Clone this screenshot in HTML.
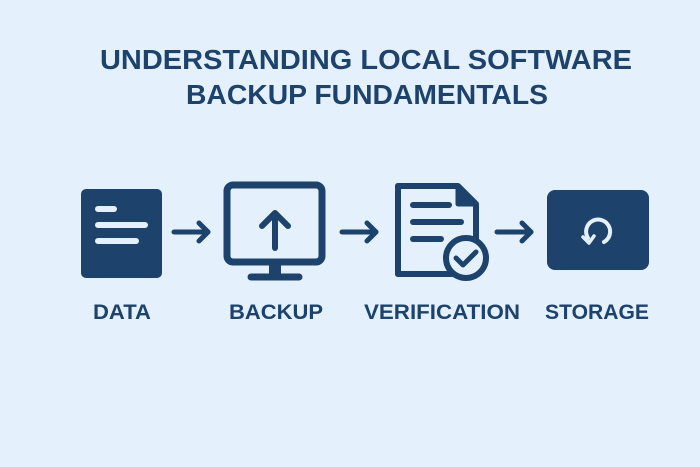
<!DOCTYPE html>
<html><head><meta charset="utf-8"><style>
html,body{margin:0;padding:0;background:#e4f1fc;}
svg{display:block}
</style></head><body>
<svg width="700" height="467" viewBox="0 0 700 467" xmlns="http://www.w3.org/2000/svg">
<rect width="700" height="467" fill="#e4f1fc"/>
<g font-family="Liberation Sans, sans-serif" font-weight="bold" fill="#1d426c">
<text x="100" y="69" font-size="28" textLength="532" lengthAdjust="spacingAndGlyphs">UNDERSTANDING LOCAL SOFTWARE</text>
<text x="186" y="104" font-size="28" textLength="362" lengthAdjust="spacingAndGlyphs">BACKUP FUNDAMENTALS</text>
<text x="93" y="319" font-size="21" textLength="58" lengthAdjust="spacingAndGlyphs">DATA</text>
<text x="229" y="319" font-size="21" textLength="94" lengthAdjust="spacingAndGlyphs">BACKUP</text>
<text x="364" y="319" font-size="21" textLength="156" lengthAdjust="spacingAndGlyphs">VERIFICATION</text>
<text x="545" y="319" font-size="21" textLength="104" lengthAdjust="spacingAndGlyphs">STORAGE</text>
</g>
<g stroke="#1d426c" fill="none" stroke-linecap="round" stroke-linejoin="round">
<rect x="81" y="189" width="81" height="89" rx="5" fill="#1d426c" stroke="none"/>
<g stroke="#e4f1fc" stroke-width="6">
<line x1="98" y1="209" x2="114" y2="209"/>
<line x1="98" y1="225" x2="145" y2="225"/>
<line x1="98" y1="241" x2="136" y2="241"/>
</g>
<g stroke-width="5"><line x1="174" y1="232" x2="208" y2="232"/><polyline points="199,223 208,232 199,241"/></g>
<rect x="227" y="185" width="95" height="77" rx="6" stroke-width="7"/>
<line x1="275" y1="262" x2="275" y2="276" stroke-width="12" stroke-linecap="butt"/>
<line x1="251" y1="277" x2="299" y2="277" stroke-width="7"/>
<line x1="275" y1="248" x2="275" y2="214" stroke-width="6"/>
<polyline points="262,226 275,213 288,226" stroke-width="6"/>
<g stroke-width="5"><line x1="342" y1="232" x2="376" y2="232"/><polyline points="367,223 376,232 367,241"/></g>
<path d="M398,186 H458 L476,204 V255 M455,274 H398 Z" stroke-width="6"/>
<path d="M398,186 V274" stroke-width="6"/>
<path d="M458,186 V204 H476" stroke-width="5" fill="#1d426c"/>
<g stroke-width="6"><line x1="413" y1="205" x2="449" y2="205"/><line x1="413" y1="222" x2="461" y2="222"/><line x1="413" y1="239" x2="441" y2="239"/></g>
<circle cx="466" cy="258" r="20" fill="#e4f1fc" stroke-width="6"/>
<polyline points="456,258 463,265 476,252" stroke-width="5"/>
<g stroke-width="5"><line x1="497" y1="232" x2="531" y2="232"/><polyline points="522,223 531,232 522,241"/></g>
<rect x="547" y="190" width="102" height="80" rx="8" fill="#1d426c" stroke="none"/>
<path d="M588,238 A12,12 0 1 1 604,242" stroke="#e4f1fc" stroke-width="4"/>
<polyline points="583,237 589,243 594,236" stroke="#e4f1fc" stroke-width="3.5"/>
</g>
</svg>
</body></html>
